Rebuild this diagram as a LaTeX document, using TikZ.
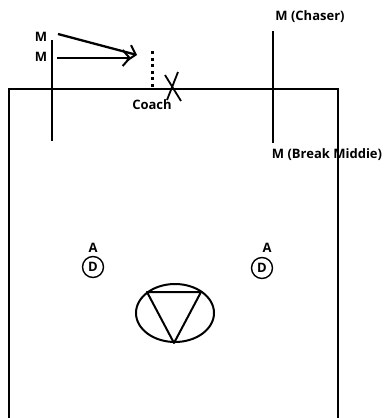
\documentclass[tikz,border=0pt]{standalone}
\usepackage{fontspec}
\setmainfont{Open Sans}
\usetikzlibrary{arrows.meta,shapes.geometric}
\begin{document}
\begin{tikzpicture}[x=1pt,y=-1pt,
  ln/.style={line width=2.3pt,black},
  lbl/.style={font=\bfseries\fontsize{13}{15}\selectfont,inner sep=0pt},
  arr/.style={ln,-{Straight Barb[length=7pt,width=16pt,line width=2pt]}}]
\useasboundingbox (0,0) rectangle (390,418);
% field
\coordinate (fbl) at (9,418);
\coordinate (ftl) at (9,89);
\coordinate (ftr) at (338,89);
\coordinate (fbr) at (338,418);
\draw[ln] (fbl) -- (ftl) -- (ftr) -- (fbr);
% left midfielder line
\coordinate (l1) at (52,40);
\coordinate (l2) at (52,141);
\draw[ln] (l1) -- (l2);
\node[lbl] (m1) at (41,37) {M};
\node[lbl] (m2) at (41,57) {M};
\coordinate (a1s) at (58,34);
\coordinate (a1e) at (137,55);
\coordinate (a2s) at (57,58);
\coordinate (a2e) at (131,58);
\draw[arr] (a1s) -- (a1e);
\draw[arr] (a2s) -- (a2e);
% dotted line
\coordinate (d1) at (152,51);
\coordinate (d2) at (152,89);
\draw[line width=3pt,dash pattern=on 3pt off 3.5pt] (d1) -- (d2);
\node[lbl] (coach) at (152,105) {Coach};
% X
\coordinate (x1) at (165,75);
\coordinate (x2) at (181,101);
\coordinate (x3) at (178,72);
\coordinate (x4) at (167,100);
\draw[line width=1.8pt] (x1) -- (x2);
\draw[line width=1.8pt] (x3) -- (x4);
% right midfielder line
\coordinate (r1) at (273,31);
\coordinate (r2) at (273,143);
\draw[ln] (r1) -- (r2);
\node[lbl] (chaser) at (310,17) {M (Chaser)};
\node[lbl] (break) at (327,155) {M (Break Middie)};
% A / D
\node[lbl] (aL) at (93,248) {A};
\node[lbl,draw,circle,line width=1.4pt,minimum size=21pt] (dL) at (93,267) {D};
\node[lbl] (aR) at (267,248) {A};
\node[lbl,draw,circle,line width=1.4pt,minimum size=21pt] (dR) at (262,268) {D};
% keeper
\node[draw,ellipse,line width=2pt,minimum width=78pt,minimum height=58pt] (ell) at (175,313) {};
\coordinate (t1) at (147,292);
\coordinate (t2) at (201,292);
\coordinate (t3) at (174,343);
\draw[line width=2pt,line join=round] (t1) -- (t2) -- (t3) -- cycle;
\end{tikzpicture}
\end{document}
